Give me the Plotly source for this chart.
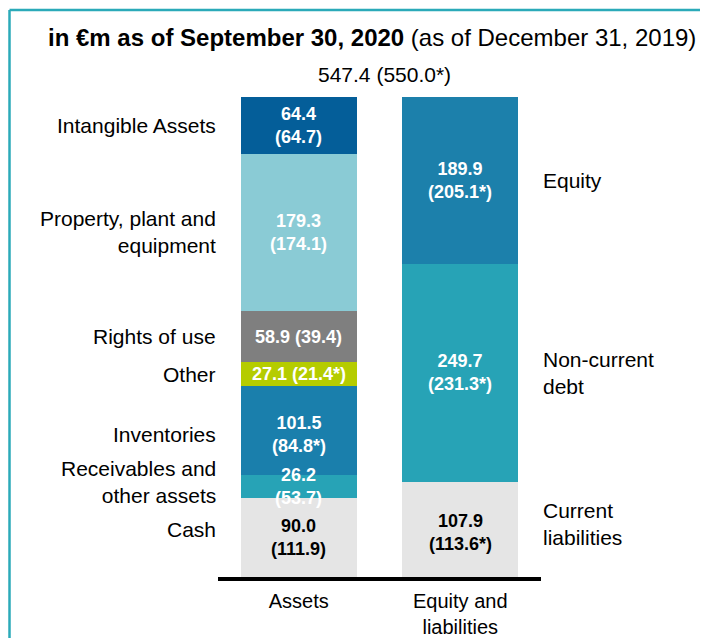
import plotly.graph_objects as go

# balance sheet, in EUR m: Sep 30, 2020 with Dec 31, 2019 in brackets
asset_names = ["Cash", "Receivables and<br>other assets", "Inventories", "Other",
               "Rights of use", "Property, plant and<br>equipment", "Intangible Assets"]
asset_2020 = [90.0, 26.2, 101.5, 27.1, 58.9, 179.3, 64.4]
asset_2019 = ["111.9", "53.7", "84.8*", "21.4*", "39.4", "174.1", "64.7"]
asset_colors = ["#E5E5E5", "#27A3B6", "#1A7FAC", "#B5CC00", "#7F7F7F", "#8ACBD5", "#045E99"]

liab_names = ["Current<br>liabilities", "Non-current<br>debt", "Equity"]
liab_2020 = [107.9, 249.7, 189.9]
liab_2019 = ["113.6*", "231.3*", "205.1*"]
liab_colors = ["#E5E5E5", "#27A3B6", "#1C80AB"]

columns = ["Assets", "Equity and<br>liabilities"]
total_label = "547.4 (550.0*)"

# small tweaks so labels sit where the original puts them
one_line = {"Other", "Rights of use"}
name_shift = {"Cash": 8, "Receivables and<br>other assets": 5, "Inventories": -4,
              "Current<br>liabilities": 6}
value_shift = {"Inventories": -4, "Current<br>liabilities": -3}

FONT = "Liberation Sans, Arial, sans-serif"
OFF = 8  # page body margin
W, H = 700, 630
L, T = 210, 43
PW, PH = 323, 526
R, B = W - L - PW, H - T - PH


def px_x(px):
    return (px - OFF - L) / PW


def px_y(py):
    return (H - B - (py - OFF)) / PH


fig = go.Figure()


def add_stack(x, names, vals, prev, colors, side):
    base = 0
    for name, v, p, c in zip(names, vals, prev, colors):
        fig.add_trace(go.Bar(
            x=[x], y=[v], marker=dict(color=c, line=dict(width=0)),
            width=0.72, hoverinfo="skip", showlegend=False,
        ))
        mid = base + v / 2
        sep = " " if name in one_line else "<br>"
        fig.add_annotation(
            x=x, y=mid, text=f"<b>{v:.1f}{sep}({p})</b>", showarrow=False,
            yshift=value_shift.get(name, 0),
            font=dict(family=FONT, size=18,
                      color="black" if c == "#E5E5E5" else "white"))
        fig.add_annotation(
            x=0 if side == "left" else 1, xref="paper", y=mid, yref="y", text=name,
            xanchor="right" if side == "left" else "left",
            align="right" if side == "left" else "left",
            yshift=name_shift.get(name, 0), showarrow=False,
            font=dict(family=FONT, size=21, color="black"))
        base += v


add_stack(0, asset_names, asset_2020, asset_2019, asset_colors, "left")
add_stack(1, liab_names, liab_2020, liab_2019, liab_colors, "right")

fig.add_annotation(x=0.5, y=sum(asset_2020), text=total_label, showarrow=False,
                   yanchor="bottom", yshift=9, xshift=5,
                   font=dict(family=FONT, size=21, color="black"))

fig.add_annotation(x=px_x(372), xref="paper", y=px_y(37), yref="paper",
                   text="<b>in €m as of September 30, 2020</b> (as of December 31, 2019)",
                   showarrow=False, xanchor="center", yanchor="middle",
                   font=dict(family=FONT, size=24, color="black"))

# frame lines
frame = "#2BAAB9"
fig.add_shape(type="line", xref="paper", yref="paper", x0=px_x(9.5), x1=px_x(W + OFF),
              y0=px_y(10), y1=px_y(10), line=dict(color=frame, width=2.5))
fig.add_shape(type="line", xref="paper", yref="paper", x0=px_x(9.5), x1=px_x(9.5),
              y0=px_y(10), y1=px_y(H + OFF), line=dict(color=frame, width=2.5))

fig.update_layout(
    width=W, height=H, barmode="stack", bargap=0,
    margin=dict(l=L, r=R, t=T, b=B, autoexpand=False),
    plot_bgcolor="white", paper_bgcolor="white",
    font=dict(family=FONT, color="black"),
    xaxis=dict(range=[-0.5, 1.5], tickvals=[0, 1], ticktext=columns,
               showline=True, linecolor="black", linewidth=3.5, automargin=False,
               showgrid=False, zeroline=False, ticks="", ticklabelstandoff=3,
               tickfont=dict(family=FONT, size=20, color="black"), fixedrange=True),
    yaxis=dict(range=[0, 600], visible=False, fixedrange=True, automargin=False),
)

fig.write_html("out.html")
